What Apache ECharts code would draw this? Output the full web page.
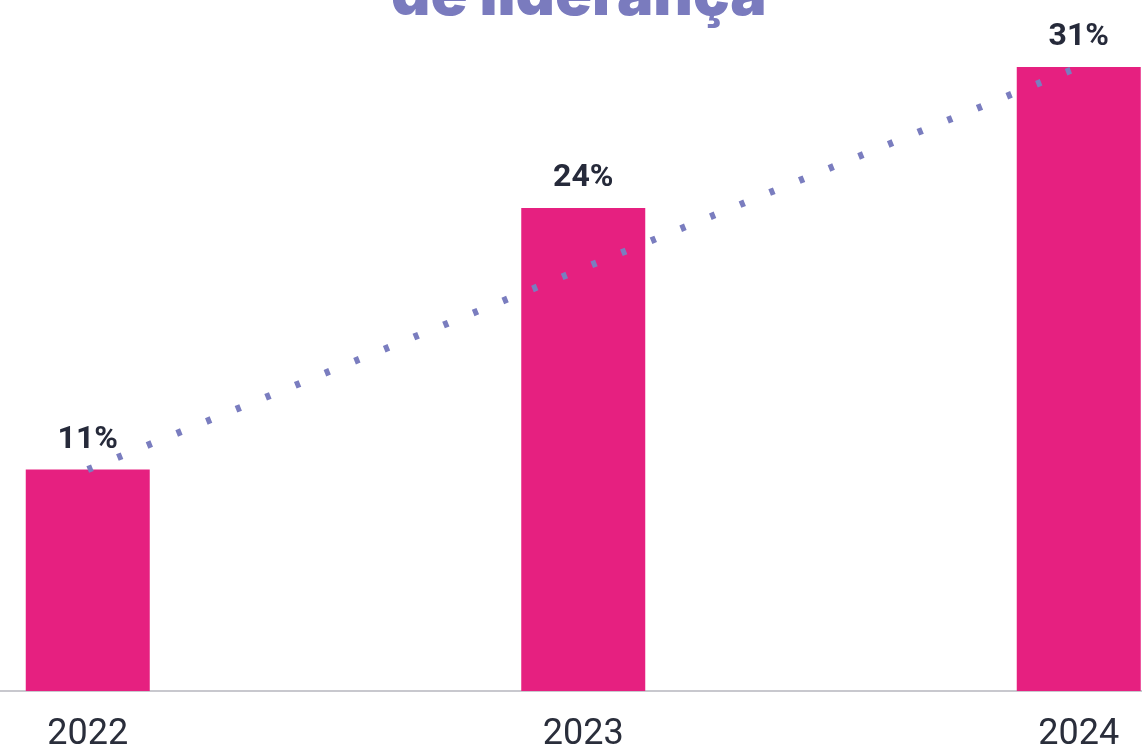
<!DOCTYPE html>
<html>
<head>
<meta charset="utf-8">
<script src="https://cdn.jsdelivr.net/npm/echarts@6/dist/echarts.min.js"></script>
<style>
  html, body { margin: 0; padding: 0; background: #fff; }
  #chart { width: 1142px; height: 754px; }
</style>
</head>
<body>
<div id="chart"></div>
<script>
// dados
var years = ['2022', '2023', '2024'];
var shares = [11, 24, 31];
var trend = [11, 21, 31];
var titleText = 'de liderança';

var myChart = echarts.init(document.getElementById('chart'));
var option = {
    animation: false,
    title: {
        text: titleText,
        left: 386,
        top: -39,
        textStyle: {
            color: '#7A7BBE',
            fontFamily: 'Inter',
            fontWeight: 900,
            fontSize: 61
        }
    },
    grid: {
        left: -160,
        right: -184.5,
        top: 67,
        bottom: 63,
        outerBoundsMode: 'none',
        containLabel: false
    },
    xAxis: {
        type: 'category',
        data: years,
        axisTick: { show: false },
        axisLine: { lineStyle: { color: '#C8C8CE', width: 2 } },
        axisLabel: {
            color: '#2A2E3B',
            fontFamily: 'Roboto',
            fontSize: 36,
            margin: 26
        }
    },
    yAxis: {
        type: 'value',
        min: 0,
        max: 31,
        show: false,
        splitLine: { show: false }
    },
    series: [
        {
            type: 'bar',
            data: shares,
            barWidth: 124,
            itemStyle: { color: '#E62080' },
            label: {
                show: true,
                position: 'top',
                distance: 14,
                formatter: '{c}%',
                color: '#262A3A',
                fontFamily: 'Roboto',
                fontWeight: 'bold',
                fontSize: 32
            }
        },
        {
            type: 'line',
            data: trend,
            symbol: 'none',
            z: 5,
            lineStyle: {
                color: '#7A7DBF',
                width: 7,
                type: [5, 27]
            }
        }
    ]
};
myChart.setOption(option);
</script>
</body>
</html>
